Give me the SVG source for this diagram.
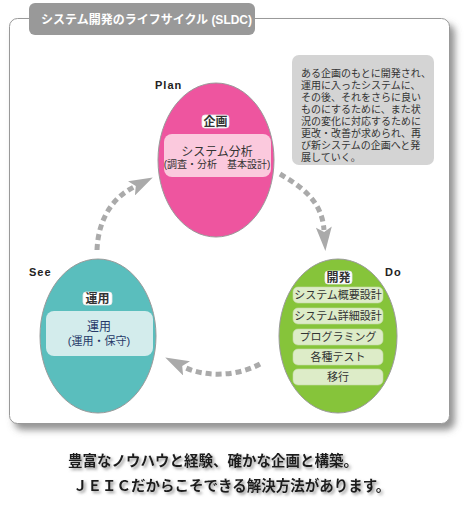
<svg xmlns="http://www.w3.org/2000/svg" width="475" height="511" viewBox="0 0 475 511">
<style>
.jp{font-family:"Liberation Sans","Noto Sans CJK JP",sans-serif}
.lbl{font-family:"Liberation Sans",Arial,sans-serif;font-weight:bold;font-size:11px;fill:#222;letter-spacing:1px}
.tag{fill:#fff;stroke:#e8e8e8;stroke-width:0.8}
.tagt{font-family:"Liberation Sans","Noto Sans CJK JP",sans-serif;font-weight:bold;font-size:12px;fill:#333;text-anchor:middle}
.ell{stroke:#9a9a9a;stroke-width:1}
.item{fill:#ddecc8;stroke:#c8dcaa;stroke-width:0.6}
.itemt{font-family:"Liberation Sans","Noto Sans CJK JP",sans-serif;font-size:11px;fill:#333;text-anchor:middle}
.info{font-family:"Liberation Sans","Noto Sans CJK JP",sans-serif;font-size:10px;fill:#333}
.arr{fill:none;stroke:#aaaaaa;stroke-width:5;stroke-dasharray:6 4}
.foot{font-family:"Liberation Serif","Noto Sans CJK JP",serif;font-weight:bold;font-size:14.5px;fill:#1a1a1a}
</style>
<defs>
<filter id="fshadow" x="-5%" y="-5%" width="115%" height="115%">
<feDropShadow dx="5" dy="6" stdDeviation="3.5" flood-color="#666" flood-opacity="0.7"/>
</filter>
<filter id="tshadow" x="-5%" y="-30%" width="110%" height="160%">
<feDropShadow dx="2" dy="2" stdDeviation="1.5" flood-color="#777" flood-opacity="0.8"/>
</filter>
<marker id="head" viewBox="0 0 24 16" refX="3" refY="8" markerUnits="userSpaceOnUse" markerWidth="24" markerHeight="16" orient="auto">
<path d="M0,0 L24,8 L0,16 L5,8 z" fill="#aaaaaa"/>
</marker>
</defs>

<g id="frame">
<rect x="9.5" y="18.5" width="440" height="405" rx="8" fill="#fff" stroke="#999" stroke-width="1" filter="url(#fshadow)"/>
<rect x="29" y="3" width="226" height="32" rx="6" fill="#999"/>
<text x="41" y="24" class="jp" font-size="12" font-weight="bold" fill="#fff">システム開発のライフサイクル (SLDC)</text>
</g>

<g id="info">
<rect x="292" y="55" width="142" height="110" rx="7" fill="#d4d4d4"/>
<text class="info" x="301" y="77">ある企画のもとに開発され、</text>
<text class="info" x="301" y="89">運用に入ったシステムに、</text>
<text class="info" x="301" y="101">その後、それをさらに良い</text>
<text class="info" x="301" y="113">ものにするために、また状</text>
<text class="info" x="301" y="125">況の変化に対応するために</text>
<text class="info" x="301" y="137">更改・改善が求められ、再</text>
<text class="info" x="301" y="149">び新システムの企画へと発</text>
<text class="info" x="301" y="161">展していく。</text>
</g>

<g id="connectors">
<path class="arr" d="M280,174 C300,186 322,200 324,230" marker-end="url(#head)"/>
<path class="arr" d="M260,364 C236,377 204,377 184,367" marker-end="url(#head)"/>
<path class="arr" d="M97,250 C98,225 108,200 134,187" marker-end="url(#head)"/>
</g>

<g id="node-plan">
<text class="lbl" x="155" y="89">Plan</text>
<ellipse class="ell" cx="216" cy="160" rx="58" ry="77" fill="#ee559f"/>
<rect class="tag" x="202" y="115" width="27" height="13" rx="3"/>
<text class="tagt" x="215.5" y="126">企画</text>
<rect x="164" y="134" width="107" height="43" rx="8" fill="#fbc9dd"/>
<text class="jp" x="217" y="156" font-size="12" fill="#333" text-anchor="middle">システム分析</text>
<text class="jp" x="217" y="168" font-size="10" fill="#333" text-anchor="middle">(調査・分析　基本設計)</text>
</g>

<g id="node-do">
<text class="lbl" x="385" y="276" letter-spacing="0">Do</text>
<ellipse class="ell" cx="338" cy="336" rx="59" ry="77" fill="#86c43a"/>
<rect class="tag" x="325" y="271" width="27" height="13" rx="3"/>
<text class="tagt" x="338.5" y="282">開発</text>
<rect class="item" x="293" y="287" width="90" height="16" rx="5"/>
<text class="itemt" x="338" y="299">システム概要設計</text>
<rect class="item" x="293" y="308" width="90" height="16" rx="5"/>
<text class="itemt" x="338" y="320">システム詳細設計</text>
<rect class="item" x="293" y="329" width="90" height="16" rx="5"/>
<text class="itemt" x="338" y="341">プログラミング</text>
<rect class="item" x="293" y="349" width="90" height="16" rx="5"/>
<text class="itemt" x="338" y="361">各種テスト</text>
<rect class="item" x="293" y="369" width="90" height="16" rx="5"/>
<text class="itemt" x="338" y="381">移行</text>
</g>

<g id="node-see">
<text class="lbl" x="29" y="276">See</text>
<ellipse class="ell" cx="98" cy="336" rx="58" ry="77" fill="#5abebd"/>
<rect class="tag" x="83" y="292" width="29" height="13" rx="3"/>
<text class="tagt" x="97.5" y="303">運用</text>
<rect x="46" y="311" width="107" height="45" rx="8" fill="#d3ecec"/>
<text class="jp" x="99" y="331" font-size="12" fill="#253868" text-anchor="middle">運用</text>
<text class="jp" x="99" y="345" font-size="11" fill="#253868" text-anchor="middle">(運用・保守)</text>
</g>

<g id="footer" filter="url(#tshadow)">
<text class="foot" x="68" y="466">豊富なノウハウと経験、確かな企画と構築。</text>
<text class="foot" x="73" y="491">ＪＥＩＣだからこそできる解決方法があります。</text>
</g>
</svg>
